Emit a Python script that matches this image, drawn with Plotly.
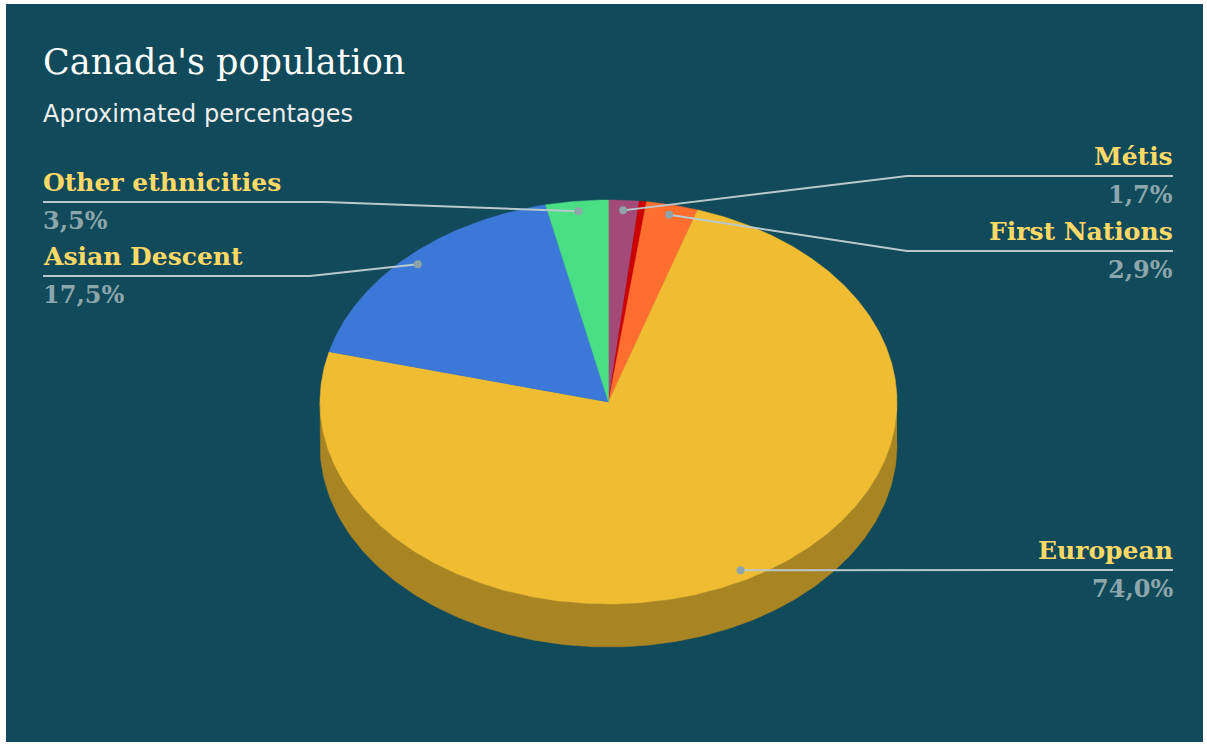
import numpy as np
import plotly.graph_objects as go

# ---- data ----
categories = ["Métis", "Inuit", "First Nations", "European", "Asian Descent", "Other ethnicities"]
values = [1.7, 0.4, 2.9, 74.0, 17.5, 3.5]
value_labels = ["1,7%", "", "2,9%", "74,0%", "17,5%", "3,5%"]
shown_labels = ["Métis", "First Nations", "European", "Asian Descent", "Other ethnicities"]
colors = ["#a34a78", "#cc0000", "#ff6d2f", "#f0bd32", "#3c78d8", "#4ade85"]

# ---- layout / geometry (pixel space) ----
W, H = 1207, 746
CX, CY, RX, RY, DEPTH = 608.5, 402.0, 288.5, 202.0, 43.0
BG = "#114a5a"
NAME_COLOR = "#ffd966"
VALUE_COLOR = "#8ba6ad"
LINE_COLOR = "#b9c8cc"
DOT_COLOR = "#8fa4a9"
SERIF = "DejaVu Serif"

# label anchor layout: (elbow_x, line_y, end_x, side)
label_layout = {
    "Métis": (907, 176, 1173, "right"),
    "First Nations": (907, 251, 1173, "right"),
    "European": (907, 570, 1173, "right"),
    "Asian Descent": (310, 276, 43, "left"),
    "Other ethnicities": (325, 202, 43, "left"),
}


def darken(hexc, f=0.7):
    h = hexc.lstrip("#")
    r, g, b = (int(h[i:i + 2], 16) for i in (0, 2, 4))
    return "#%02x%02x%02x" % (int(r * f), int(g * f), int(b * f))


def pt(t_deg, frac=1.0):
    t = np.radians(t_deg)
    return CX + RX * frac * np.sin(t), CY - RY * frac * np.cos(t)


total = sum(values)
bounds = np.concatenate([[0], np.cumsum(values)]) / total * 360.0

fig = go.Figure()

# sides (front half visible: 90..270 deg)
for i, c in enumerate(categories):
    a0, a1 = bounds[i], bounds[i + 1]
    s0, s1 = max(a0, 90.0), min(a1, 270.0)
    if s1 <= s0:
        continue
    ts = np.linspace(s0, s1, 200)
    xs, ys = pt(ts)
    px = np.concatenate([xs, xs[::-1]])
    py = np.concatenate([ys, ys[::-1] + DEPTH])
    fig.add_trace(go.Scatter(x=px, y=py, mode="lines", fill="toself",
                             fillcolor=darken(colors[i]), line=dict(width=0.5, color=darken(colors[i])),
                             hoverinfo="skip", showlegend=False))

# top face
for i, c in enumerate(categories):
    a0, a1 = bounds[i], bounds[i + 1]
    n = max(int((a1 - a0) * 2), 4)
    ts = np.linspace(a0, a1, n)
    xs, ys = pt(ts)
    px = np.concatenate([[CX], xs, [CX]])
    py = np.concatenate([[CY], ys, [CY]])
    fig.add_trace(go.Scatter(x=px, y=py, mode="lines", fill="toself",
                             fillcolor=colors[i], line=dict(width=0.5, color=colors[i]),
                             name=c, text=f"{c}: {values[i]}%", hoverinfo="text", showlegend=False))

# leader lines, dots, labels
annotations = []
for i, c in enumerate(categories):
    if c not in shown_labels:
        continue
    mid = (bounds[i] + bounds[i + 1]) / 2
    dx, dy = pt(mid, 0.95)
    ex, ly, endx, side = label_layout[c]
    fig.add_trace(go.Scatter(x=[dx, ex, endx], y=[dy, ly, ly], mode="lines",
                             line=dict(color=LINE_COLOR, width=2), hoverinfo="skip", showlegend=False))
    fig.add_trace(go.Scatter(x=[dx], y=[dy], mode="markers",
                             marker=dict(color=DOT_COLOR, size=8), hoverinfo="skip", showlegend=False))
    anchor = "right" if side == "right" else "left"
    tx = endx + 2 if side == "right" else endx - 2
    annotations.append(dict(x=tx, y=ly - 3, xref="x", yref="y", text=f"<b>{c}</b>",
                            showarrow=False, xanchor=anchor, yanchor="bottom",
                            font=dict(family=SERIF, size=25, color=NAME_COLOR)))
    annotations.append(dict(x=tx, y=ly + 2, xref="x", yref="y", text=f"<b>{value_labels[i]}</b>",
                            showarrow=False, xanchor=anchor, yanchor="top",
                            font=dict(family=SERIF, size=24, color=VALUE_COLOR)))

annotations.append(dict(x=41, y=84, xref="x", yref="y", text="Canada's population",
                        showarrow=False, xanchor="left", yanchor="bottom",
                        font=dict(family=SERIF, size=35, color="#ffffff")))
annotations.append(dict(x=41, y=130, xref="x", yref="y", text="Aproximated percentages",
                        showarrow=False, xanchor="left", yanchor="bottom",
                        font=dict(family="DejaVu Sans", size=24, color="#eeeeee")))

fig.update_layout(
    width=W, height=H, margin=dict(l=0, r=0, t=0, b=0, pad=0),
    paper_bgcolor="#ffffff", plot_bgcolor="#ffffff",
    xaxis=dict(range=[0, W], visible=False, fixedrange=True),
    yaxis=dict(range=[H, 0], visible=False, fixedrange=True),
    shapes=[dict(type="rect", xref="x", yref="y", x0=6, y0=4, x1=1203, y1=742,
                 fillcolor=BG, line=dict(width=0), layer="below")],
    annotations=annotations,
)

fig.write_html("out.html")
